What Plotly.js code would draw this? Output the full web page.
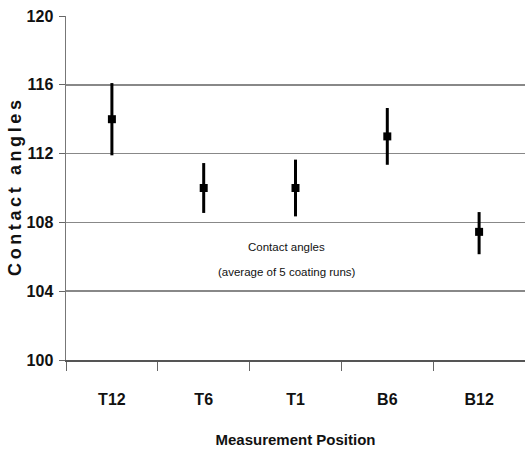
<!DOCTYPE html>
<html>
<head>
<meta charset="utf-8">
<script src="https://cdn.plot.ly/plotly-3.0.1.min.js"></script>
<style>html,body{margin:0;padding:0;background:#fff;}#chart{width:525px;height:456px;}</style>
</head>
<body>
<div id="chart"></div>
<script>
// Data
const positions = ["T12", "T6", "T1", "B6", "B12"];
const contactAngle = [114.0, 110.0, 110.0, 113.0, 107.45];
const errPlus = [2.1, 1.45, 1.65, 1.65, 1.15];
const errMinus = [2.1, 1.45, 1.65, 1.65, 1.3];
const yTicks = [100, 104, 108, 112, 116, 120];

const sans = "Liberation Sans, Arial, sans-serif";

const trace = {
  type: "scatter",
  mode: "markers",
  x: positions,
  y: contactAngle,
  marker: {symbol: "square", size: 8, color: "#000"},
  error_y: {type: "data", symmetric: false, array: errPlus, arrayminus: errMinus,
            color: "#000", thickness: 3, width: 0},
  showlegend: false,
  hoverinfo: "x+y"
};

const layout = {
  width: 525, height: 456,
  margin: {l: 66, r: 0, t: 16, b: 96},
  paper_bgcolor: "#fff", plot_bgcolor: "#fff",
  xaxis: {
    type: "category",
    range: [-0.5, 4.5],
    tickson: "boundaries",
    ticks: "outside", ticklen: 9, tickwidth: 1, tickcolor: "#666",
    ticklabelstandoff: 24,
    showgrid: false,
    zeroline: false,
    showline: true, linecolor: "#555", linewidth: 1.5,
    tickfont: {family: sans, size: 16, color: "#111", weight: "bold"},
    title: {text: "Measurement Position", standoff: 28,
            font: {family: sans, size: 15, color: "#111", weight: "bold"}},
    automargin: false
  },
  yaxis: {
    range: [100, 120],
    tickvals: yTicks,
    ticktext: yTicks.map(String),
    ticks: "outside", ticklen: 6, tickwidth: 1, tickcolor: "#666",
    ticklabelstandoff: 2,
    showgrid: true, gridcolor: "#888", gridwidth: 1.5,
    zeroline: false,
    showline: true, linecolor: "#777", linewidth: 1.5,
    tickfont: {family: sans, size: 16, color: "#111", weight: "bold"},
    title: {text: "C\u2009o\u2009n\u2009t\u2009a\u2009c\u2009t\u2009 \u2009a\u2009n\u2009g\u2009l\u2009e\u2009s", standoff: 0,
            font: {family: sans, size: 18, color: "#111", weight: "bold"}},
    automargin: false
  },
  annotations: [
    {xref: "paper", yref: "paper", x: 0.481, y: 0.328, text: "Contact angles",
     showarrow: false, xanchor: "center", yanchor: "middle",
     font: {family: sans, size: 11.5, color: "#111"}},
    {xref: "paper", yref: "paper", x: 0.481, y: 0.256, text: "(average of 5 coating runs)",
     showarrow: false, xanchor: "center", yanchor: "middle",
     font: {family: sans, size: 11.5, color: "#111"}}
  ]
};

Plotly.newPlot("chart", [trace], layout, {displayModeBar: false, staticPlot: true});
</script>
</body>
</html>
